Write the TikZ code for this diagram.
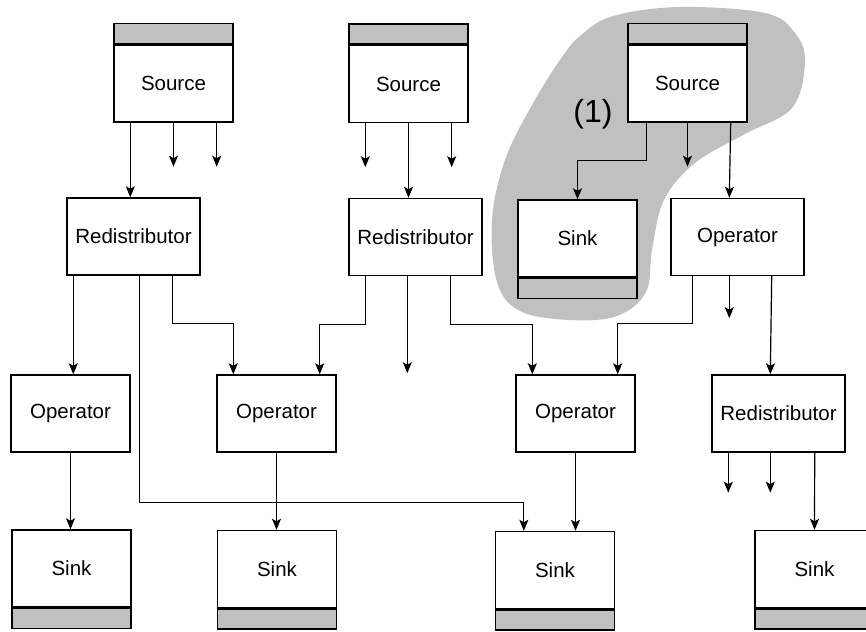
\documentclass[tikz,border=0pt]{standalone}
\usepackage{fontspec}
\setmainfont{Liberation Sans}
\usetikzlibrary{positioning,calc,arrows.meta}
\definecolor{bandgray}{RGB}{192,192,192}
\tikzset{
	box/.style={draw, line width=1.4pt, fill=white, minimum width=119pt, minimum height=77pt, inner sep=0pt, font=\fontsize{20.5}{24}\selectfont},
	widebox/.style={box, minimum width=133pt},
	band/.style={draw, line width=1.4pt, fill=bandgray, minimum width=119pt, minimum height=20pt, inner sep=0pt},
	flow/.style={line width=1.2pt, -{Stealth[length=11pt, width=9pt, inset=2.5pt]}}
}
\begin{document}
\begin{tikzpicture}[x=1pt,y=-1pt]
	\useasboundingbox (0,0) rectangle (866,631);
	
	\fill[bandgray] plot[smooth cycle, tension=0.6] coordinates {(613,16) (680,7) (765,13) (795,33) (805,62) (792,108) (745,134) (695,163) (664,200) (652,250) (646,292) (617,316) (570,320) (520,311) (497,282) (492,220) (505,160) (532,105) (560,60) (580,36)};
	\node[font=\fontsize{32}{38}\selectfont] (grp) at (593,114) {(1)};
	
	\node[box] (src1) at (173.5,83.5) {Source};
	\node[band, above=0pt of src1] (src1b) {};
	\node[box] (src2) at (408.5,84) {Source};
	\node[band, above=0pt of src2] (src2b) {};
	\node[box] (src3) at (687.5,83.5) {Source};
	\node[band, above=0pt of src3] (src3b) {};
	
	\node[widebox] (red1) at (133.5,236.5) {Redistributor};
	\node[widebox] (red2) at (415.5,237) {Redistributor};
	\node[box] (sink0) at (577.5,238.5) {Sink};
	\node[band, below=0pt of sink0] (sink0b) {};
	\node[widebox] (op4) at (737.5,237) {Operator};
	
	\node[box] (op1) at (70.5,413.5) {Operator};
	\node[box] (op2) at (276.5,413.5) {Operator};
	\node[box] (op3) at (575.5,413.5) {Operator};
	\node[widebox] (red3) at (778.5,413.5) {Redistributor};
	
	\node[box] (sink1) at (71.5,568.5) {Sink};
	\node[band, below=0pt of sink1] (sink1b) {};
	\node[box] (sink2) at (277,569) {Sink};
	\node[band, below=0pt of sink2] (sink2b) {};
	\node[box] (sink3) at (555,570) {Sink};
	\node[band, below=0pt of sink3] (sink3b) {};
	\node[box] (sink4) at (814.5,569) {Sink};
	\node[band, below=0pt of sink4] (sink4b) {};
	
	\draw[flow] ($(src1.south west)+(17,0)$) -- ($(red1.north west)+(64,0)$);
	\draw[flow] (src1.south) -- ++(0,44);
	\draw[flow] ($(src1.south east)+(-17,0)$) -- ++(0,44);
	
	\draw[flow] ($(src2.south west)+(17,0)$) -- ++(0,44);
	\draw[flow] (src2.south) -- (src2.south |- red2.north);
	\draw[flow] ($(src2.south east)+(-17,0)$) -- ++(0,44);
	
	\draw[flow] ($(src3.south west)+(19,0)$) -- ++(0,38) -| (sink0.north);
	\draw[flow] (src3.south) -- ++(0,44);
	\draw[flow] ($(src3.south east)+(-17,0)$) -- ($(op4.north west)+(59,0)$);
	
	\draw[flow] ($(red1.south west)+(7,0)$) -- ($(op1.north west)+(63,0)$);
	\draw[flow] ($(red1.south west)+(73,0)$) -- ++(0,227) -| ($(sink3.north west)+(29,0)$);
	\draw[flow] ($(red1.south west)+(106,0)$) -- ++(0,48) -| ($(op2.north west)+(17,0)$);
	
	\draw[flow] ($(red2.south west)+(17,0)$) -- ++(0,48) -| ($(op2.north east)+(-17,0)$);
	\draw[flow] ($(red2.south west)+(59,0)$) -- ++(0,97);
	\draw[flow] ($(red2.south west)+(102,0)$) -- ++(0,48) -| ($(op3.north west)+(17,0)$);
	
	\draw[flow] ($(op4.south west)+(22,0)$) -- ++(0,47) -| ($(op3.north east)+(-18,0)$);
	\draw[flow] ($(op4.south west)+(59,0)$) -- ++(0,42);
	\draw[flow] ($(op4.south east)+(-33,0)$) -- ($(red3.north west)+(59,0)$);
	
	\draw[flow] (op1.south) -- (op1.south |- sink1.north);
	\draw[flow] (op2.south) -- (op2.south |- sink2.north);
	\draw[flow] (op3.south) -- (op3.south |- sink3.north);
	
	\draw[flow] ($(red3.south west)+(17,0)$) -- ++(0,40);
	\draw[flow] ($(red3.south west)+(59,0)$) -- ++(0,40);
	\draw[flow] ($(red3.south east)+(-31,0)$) -- (sink4.north);
\end{tikzpicture}
\end{document}
